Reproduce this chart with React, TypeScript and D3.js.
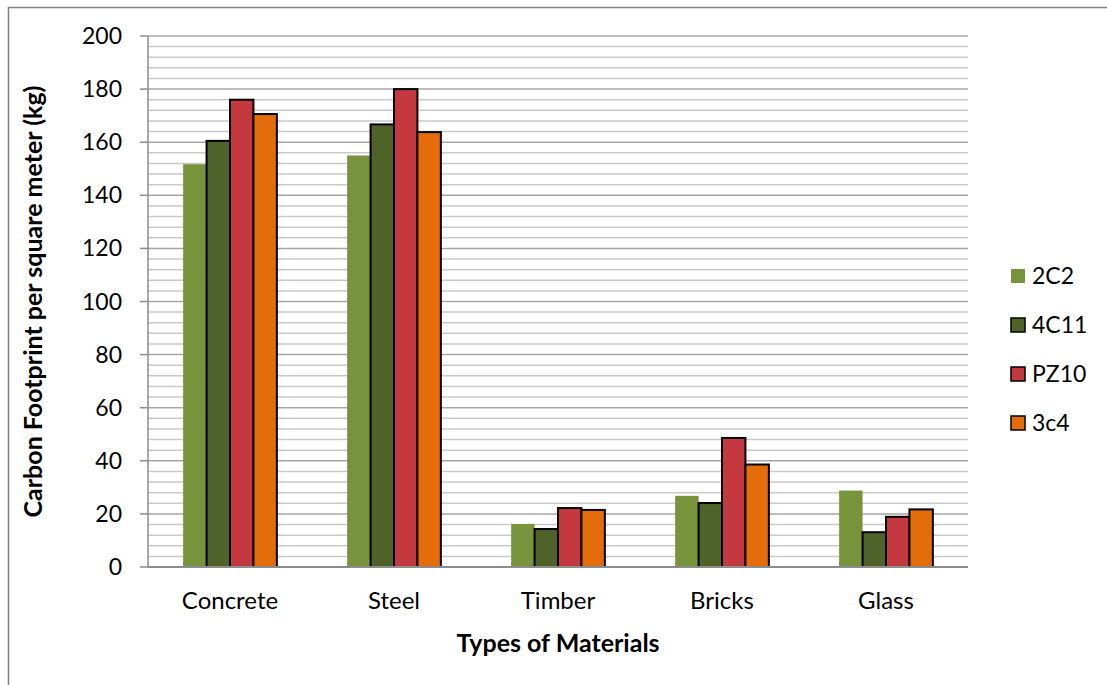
import React from "react";
import * as d3 from "d3";

const categories = ["Concrete", "Steel", "Timber", "Bricks", "Glass"];
const seriesNames = ["2C2", "4C11", "PZ10", "3c4"];
const values2C2 = [151.7, 155, 16.2, 26.8, 28.8];
const values4C11 = [160.5, 166.7, 14.3, 24.1, 13.1];
const valuesPZ10 = [176, 180, 22.2, 48.6, 18.9];
const values3c4 = [170.6, 163.8, 21.5, 38.6, 21.7];
const seriesColors = ["#77933C", "#4F6228", "#C3393F", "#E46C0A"];
const seriesOutlined = [false, true, true, true];
const yTicks = [0, 20, 40, 60, 80, 100, 120, 140, 160, 180, 200];

const W = 1107;
const H = 685;
const FONT = "Lato, 'Open Sans', sans-serif";

export default function App() {
  const seriesValues = [values2C2, values4C11, valuesPZ10, values3c4];
  const left = 148;
  const right = 968;
  const top = 36;
  const bottom = 567;

  const y = d3.scaleLinear().domain([0, 200]).range([bottom, top]);
  const x0 = d3.scaleBand<string>().domain(categories).range([left, right]).padding(0);
  const x1 = d3
    .scaleBand<string>()
    .domain(seriesNames)
    .range([0, x0.bandwidth()])
    .paddingInner(0)
    .paddingOuter(1.5);

  const minorTicks = d3.range(0, 201, 4).filter((v) => v % 20 !== 0);

  return (
    <svg
      width={W}
      height={H}
      style={{ position: "absolute", left: 0, top: 0, background: "#fff" }}
      fontFamily={FONT}
    >
      <rect x={0} y={0} width={W} height={H} fill="#fff" />
      {/* chart frame */}
      <rect x={8.5} y={7.5} width={1300} height={900} fill="none" stroke="#7f7f7f" strokeWidth={1.5} />

      {/* gridlines */}
      {minorTicks.map((v) => (
        <line key={"m" + v} x1={left} x2={right} y1={y(v)} y2={y(v)} stroke="#c9c9c9" strokeWidth={1.5} />
      ))}
      {yTicks.filter((v) => v > 0).map((v) => (
        <line key={"g" + v} x1={left} x2={right} y1={y(v)} y2={y(v)} stroke="#a6a6a6" strokeWidth={1.5} />
      ))}

      {/* y axis */}
      <line x1={left} x2={left} y1={top} y2={bottom} stroke="#8c8c8c" strokeWidth={1.5} />
      {yTicks.map((v) => (
        <g key={"t" + v}>
          <line x1={left - 8} x2={left} y1={y(v)} y2={y(v)} stroke="#8c8c8c" strokeWidth={1.5} />
          <text x={122} y={y(v)} dy="0.35em" textAnchor="end" fontSize={23} fill="#000">
            {v}
          </text>
        </g>
      ))}

      {/* bars */}
      {categories.map((c, ci) => (
        <g key={c} transform={`translate(${x0(c)},0)`}>
          {seriesNames.map((s, si) => {
            const v = seriesValues[si][ci];
            return (
              <rect
                key={s}
                x={x1(s)}
                y={y(v)}
                width={x1.bandwidth()}
                height={y(0) - y(v)}
                fill={seriesColors[si]}
                stroke={seriesOutlined[si] ? "#000" : "none"}
                strokeWidth={2}
              />
            );
          })}
        </g>
      ))}

      {/* x axis */}
      <line x1={left} x2={right} y1={bottom} y2={bottom} stroke="#8c8c8c" strokeWidth={2} />
      {categories.map((c) => (
        <text
          key={"x" + c}
          x={(x0(c) as number) + x0.bandwidth() / 2}
          y={601}
          dy="0.35em"
          textAnchor="middle"
          fontSize={24}
          fill="#000"
        >
          {c}
        </text>
      ))}

      {/* axis titles */}
      <text x={558} y={643} dy="0.35em" textAnchor="middle" fontSize={25} fontWeight="bold" fill="#000">
        Types of Materials
      </text>
      <text
        transform={`translate(33,${(top + bottom) / 2}) rotate(-90)`}
        dy="0.35em"
        textAnchor="middle"
        fontSize={25}
        fontWeight="bold"
        fill="#000"
      >
        Carbon Footprint per square meter (kg)
      </text>

      {/* legend */}
      {seriesNames.map((s, si) => {
        const cy = 276 + si * 49;
        return (
          <g key={"l" + s}>
            <rect
              x={1011}
              y={cy - 7}
              width={14}
              height={14}
              fill={seriesColors[si]}
              stroke={seriesOutlined[si] ? "#000" : "none"}
              strokeWidth={1.5}
            />
            <text x={1032} y={cy} dy="0.35em" fontSize={23} fill="#000">
              {s}
            </text>
          </g>
        );
      })}
    </svg>
  );
}
